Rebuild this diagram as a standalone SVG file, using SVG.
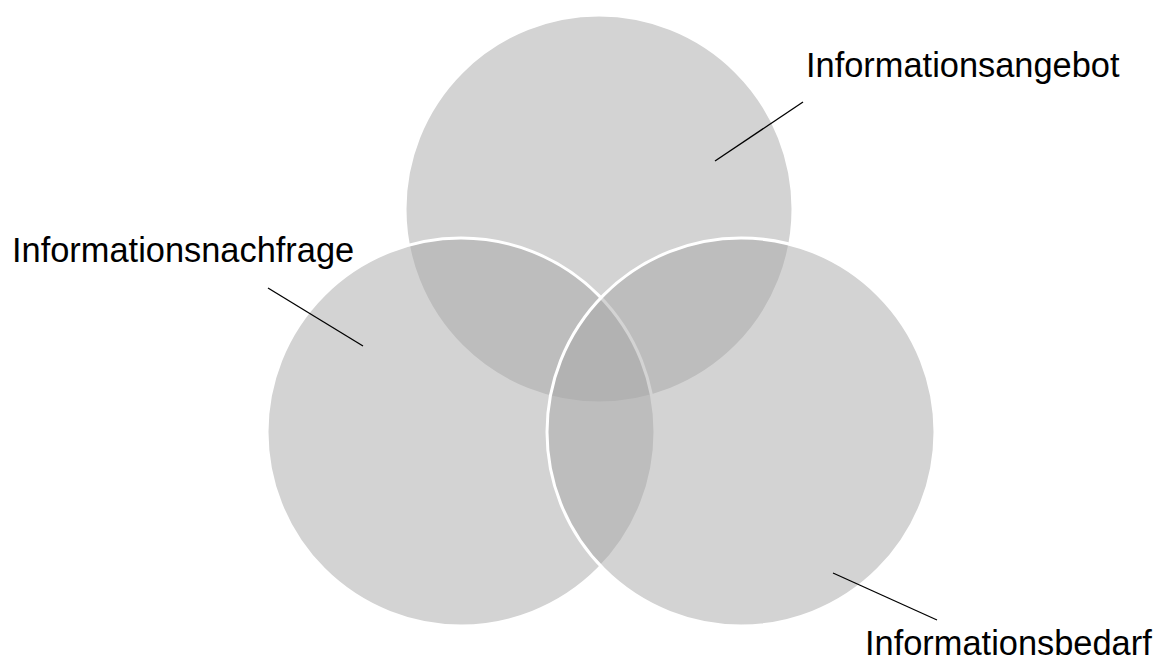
<svg xmlns="http://www.w3.org/2000/svg" width="1158" height="660" viewBox="0 0 1158 660">
  <style>
    .set { fill: #a7a7a7; fill-opacity: 0.5; stroke: #ffffff; stroke-width: 3; }
    .label { font-family: "Liberation Sans", Arial, sans-serif; font-size: 34.4px; fill: #000000; }
    .leader { stroke: #000000; stroke-width: 1.3; fill: none; }
  </style>
  <rect width="1158" height="660" fill="#ffffff"/>
  <g id="angebot">
    <circle class="set" cx="599" cy="209" r="194"/>
  </g>
  <g id="nachfrage">
    <circle class="set" cx="461" cy="432" r="194"/>
  </g>
  <g id="bedarf">
    <circle class="set" cx="741" cy="432" r="194"/>
  </g>
  <g id="connectors">
    <line class="leader" x1="803" y1="102" x2="715" y2="161"/>
    <line class="leader" x1="268" y1="288" x2="363" y2="346"/>
    <line class="leader" x1="833" y1="573" x2="937" y2="620"/>
  </g>
  <g id="labels">
    <text class="label" x="806" y="77">Informationsangebot</text>
    <text class="label" x="12" y="262">Informationsnachfrage</text>
    <text class="label" x="865" y="655">Informationsbedarf</text>
  </g>
</svg>
